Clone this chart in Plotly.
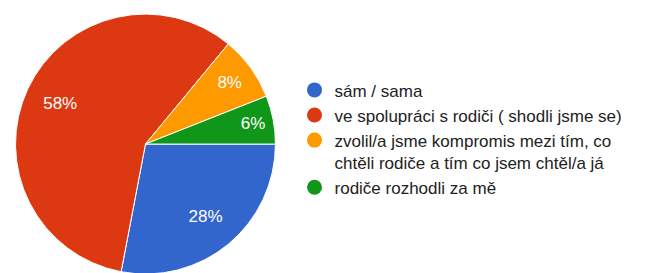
import plotly.graph_objects as go

labels = ["sám / sama",
          "ve spolupráci s rodiči ( shodli jsme se)",
          "zvolil/a jsme kompromis mezi tím, co<br>chtěli rodiče a tím co jsem chtěl/a já",
          "rodiče rozhodli za mě"]
values = [28, 58, 8, 6]
colors = ["#3366cc", "#dc3912", "#ff9900", "#109618"]

dom = dict(x=[0.0092, 0.4138], y=[0.0256, 0.9777])

fig = go.Figure()
fig.add_trace(go.Pie(
    labels=labels, values=values, sort=False, direction="clockwise", rotation=90,
    marker=dict(colors=colors, line=dict(color="white", width=1)),
    textinfo="none", showlegend=False, hoverinfo="label+percent",
    domain=dom,
))
# transparent ring carrying the percentage labels at ~3/4 radius
fig.add_trace(go.Pie(
    labels=labels, values=values, sort=False, direction="clockwise", rotation=90,
    hole=0.45,
    marker=dict(colors=["rgba(0,0,0,0)"] * len(values), line=dict(width=0)),
    textinfo="percent", textposition="inside", insidetextorientation="horizontal",
    textfont=dict(family="Liberation Sans, Arial", size=17, color="white"),
    showlegend=False, hoverinfo="skip",
    domain=dom,
))
for lab, col in zip(labels, colors):
    fig.add_trace(go.Scatter(x=[None], y=[None], mode="markers", name=lab,
                             marker=dict(color=col, size=15, symbol="circle")))

fig.update_layout(
    width=650, height=273, margin=dict(l=0, r=0, t=0, b=0),
    paper_bgcolor="white", plot_bgcolor="white",
    xaxis=dict(visible=False), yaxis=dict(visible=False),
    legend=dict(x=0.4408, xanchor="left", y=0.5207, yanchor="middle", valign="top",
                font=dict(family="Liberation Sans, Arial", size=17, color="#222222"),
                tracegroupgap=0, itemsizing="trace"),
)
fig.write_html("out.html")
